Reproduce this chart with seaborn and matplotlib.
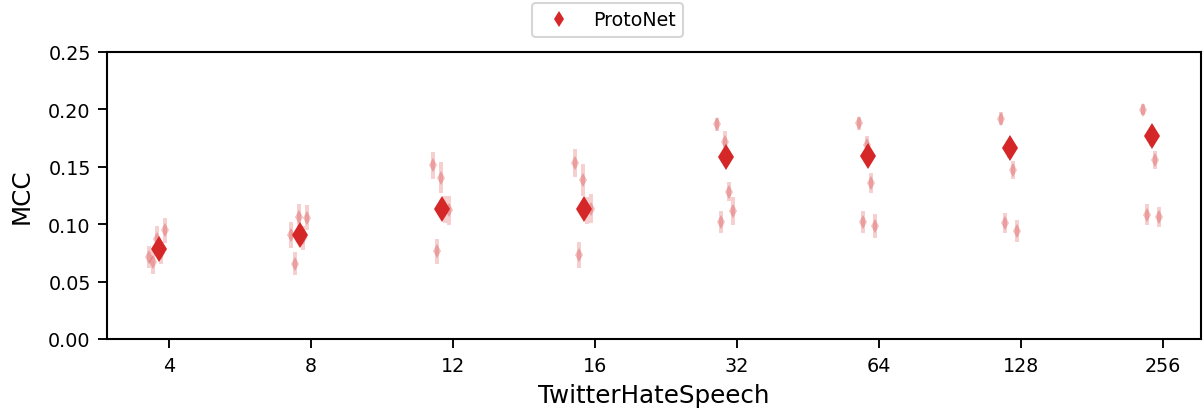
import numpy as np
import pandas as pd
import matplotlib
matplotlib.use("Agg")
import matplotlib.pyplot as plt
import matplotlib.transforms as mtransforms
import seaborn as sns

# ---------------- data ----------------
shots = ["4", "8", "12", "16", "32", "64", "128", "256"]
mean_mcc = [0.0787, 0.0903, 0.1136, 0.1130, 0.1588, 0.1594, 0.1661, 0.1772]

seed0 = [0.0714, 0.0903, 0.1515, 0.1530, 0.1871, 0.1879, 0.1917, 0.1996]
seed1 = [0.0670, 0.0656, 0.0763, 0.0734, 0.1020, 0.1020, 0.1014, 0.1084]
seed2 = [0.0874, 0.1064, 0.1405, 0.1384, 0.1720, 0.1690, 0.1650, 0.1760]
seed3 = [0.0750, 0.0880, 0.1130, 0.1120, 0.1282, 0.1361, 0.1472, 0.1559]
seed4 = [0.0947, 0.1058, 0.1122, 0.1136, 0.1113, 0.0985, 0.0938, 0.1064]

err0 = [0.0080, 0.0095, 0.0100, 0.0105, 0.0040, 0.0040, 0.0040, 0.0030]
err1 = [0.0090, 0.0080, 0.0090, 0.0095, 0.0080, 0.0080, 0.0070, 0.0075]
err2 = [0.0090, 0.0095, 0.0120, 0.0120, 0.0070, 0.0060, 0.0060, 0.0060]
err3 = [0.0080, 0.0090, 0.0100, 0.0100, 0.0065, 0.0070, 0.0060, 0.0060]
err4 = [0.0090, 0.0095, 0.0110, 0.0110, 0.0105, 0.0090, 0.0080, 0.0070]

seed_names = ["s0", "s1", "s2", "s3", "s4"]
seed_vals = [seed0, seed1, seed2, seed3, seed4]
seed_errs = [err0, err1, err2, err3, err4]

# per-seed table: two rows per point (value - err, value + err)
rows = []
for name, vals, errs in zip(seed_names, seed_vals, seed_errs):
    for s, v, e in zip(shots, vals, errs):
        rows.append({"shots": s, "seed": name, "MCC": v - e})
        rows.append({"shots": s, "seed": name, "MCC": v + e})
df_seeds = pd.DataFrame(rows)

df_main = pd.DataFrame({"shots": shots, "MCC": mean_mcc, "model": "ProtoNet"})

# ---------------- figure ----------------
DPI = 150
RED = "#d62728"
fig, ax = plt.subplots(figsize=(1203 / DPI, 417 / DPI), dpi=DPI)
fig.subplots_adjust(left=0.0892, right=0.998, bottom=0.1847, top=0.873)

n0 = len(ax.lines)
sns.pointplot(
    data=df_seeds, x="shots", y="MCC", hue="seed", order=shots,
    hue_order=seed_names, palette=[RED] * 5, dodge=0.1127,
    estimator="mean", errorbar=("pi", 100), markers="d", linestyle="none",
    markersize=4.6, markeredgewidth=0, legend=False,
    err_kws={"linewidth": 1.9, "alpha": 0.22}, ax=ax,
)
seed_lines = ax.lines[n0:]
shift_seeds = mtransforms.ScaledTranslation(-12 / DPI, 0, fig.dpi_scale_trans)
for ln in seed_lines:
    ln.set_transform(ln.get_transform() + shift_seeds)
    if ln.get_marker() not in (None, "None", "none", ""):
        ln.set_alpha(0.3)

n1 = len(ax.lines)
sns.pointplot(
    data=df_main, x="shots", y="MCC", hue="model", order=shots,
    palette={"ProtoNet": RED}, errorbar=None, markers="d", linestyle="none",
    markersize=8.6, markeredgewidth=0, ax=ax,
)
shift_main = mtransforms.ScaledTranslation(-10.5 / DPI, 0, fig.dpi_scale_trans)
for ln in ax.lines[n1:]:
    ln.set_transform(ln.get_transform() + shift_main)

ax.set_xlim(-0.435, 7.268)
ax.set_ylim(0, 0.25)
ax.set_yticks([0.0, 0.05, 0.10, 0.15, 0.20, 0.25])
ax.set_yticklabels(["0.00", "0.05", "0.10", "0.15", "0.20", "0.25"])
ax.tick_params(labelsize=9.2, length=4.5, width=0.9)
ax.set_xlabel("TwitterHateSpeech", fontsize=11.8)
ax.set_ylabel("MCC", fontsize=11.8, labelpad=7)
for sp in ax.spines.values():
    sp.set_linewidth(1.0)
    sp.set_color("black")

sns.move_legend(
    ax, "lower center", bbox_to_anchor=(0.505, 0.886),
    bbox_transform=fig.transFigure, title=None, frameon=True, fontsize=9.1,
)
leg = ax.get_legend()
for h in leg.legend_handles:
    h.set_markersize(5.6)
    h.set_linestyle("none")

fig.savefig("out.png", dpi=DPI)
